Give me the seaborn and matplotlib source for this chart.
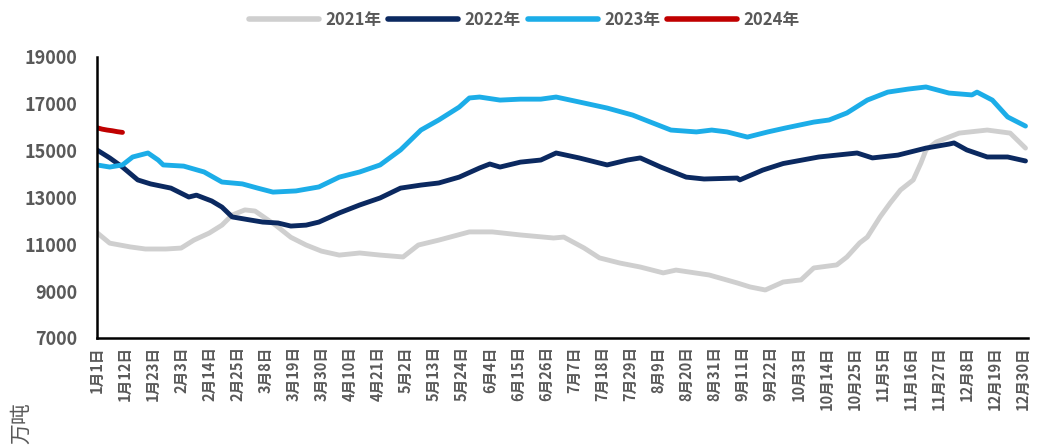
import matplotlib
matplotlib.use("Agg")
import matplotlib.pyplot as plt
from matplotlib.ticker import FixedLocator
import numpy as np
import pandas as pd
import seaborn as sns

# Day-of-year (0 = 1月1日) and stock level (万吨) for each year
days_2021 = [0, 5, 13, 19, 27, 33, 38, 44, 49, 53, 58, 62, 66, 70, 76, 82, 88, 95,
             103, 111, 120, 126, 134, 146, 155, 166, 179, 183, 191, 197, 205, 213,
             222, 227, 240, 251, 256, 262, 269, 276, 281, 290, 294, 299, 302, 307,
             311, 315, 320, 323, 325, 329, 338, 349, 358, 364]
vals_2021 = [11500, 11050, 10890, 10800, 10800, 10840, 11180, 11480, 11820, 12250,
             12470, 12420, 12120, 11820, 11300, 10970, 10710, 10540, 10630, 10540,
             10460, 10970, 11180, 11530, 11530, 11400, 11270, 11310, 10840, 10420,
             10200, 10030, 9780, 9900, 9690, 9350, 9180, 9050, 9390, 9480, 9990,
             10120, 10460, 11060, 11310, 12170, 12770, 13320, 13750, 14470, 15030,
             15370, 15750, 15880, 15750, 15110]

days_2022 = [0, 5, 10, 16, 21, 29, 36, 39, 45, 49, 53, 60, 65, 71, 76, 82, 87, 95,
             103, 111, 119, 127, 134, 142, 150, 154, 158, 166, 174, 180, 189, 200,
             208, 213, 221, 231, 238, 251, 252, 261, 269, 283, 298, 304, 314, 325,
             334, 336, 341, 349, 357, 364]
vals_2022 = [15030, 14690, 14300, 13750, 13580, 13400, 13020, 13100, 12850, 12590,
             12170, 12040, 11950, 11910, 11780, 11820, 11950, 12340, 12680, 12980,
             13400, 13530, 13620, 13870, 14260, 14430, 14300, 14510, 14600, 14900,
             14690, 14390, 14600, 14690, 14300, 13870, 13790, 13830, 13750, 14170,
             14450, 14730, 14900, 14690, 14810, 15110, 15280, 15330, 15030, 14730,
             14730, 14560]

days_2023 = [0, 5, 10, 14, 20, 24, 26, 34, 42, 49, 57, 63, 69, 78, 87, 95, 103, 111,
             119, 127, 134, 142, 146, 150, 158, 166, 174, 180, 189, 200, 210, 217,
             225, 235, 241, 247, 255, 263, 270, 281, 287, 294, 302, 310, 318, 325,
             334, 343, 345, 351, 357, 364]
vals_2023 = [14390, 14300, 14390, 14730, 14900, 14600, 14390, 14340, 14090, 13660,
             13580, 13400, 13230, 13280, 13450, 13870, 14090, 14390, 15030, 15880,
             16310, 16860, 17250, 17290, 17160, 17200, 17200, 17290, 17080, 16820,
             16520, 16220, 15880, 15800, 15880, 15800, 15580, 15800, 15970, 16220,
             16310, 16610, 17160, 17500, 17630, 17720, 17460, 17380, 17500, 17160,
             16440, 16050]

days_2024 = [0, 2, 4, 6, 8, 10]
vals_2024 = [15980, 15920, 15880, 15850, 15810, 15780]

years = ["2021年", "2022年", "2023年", "2024年"]
colors = ["#CFCFCF", "#0B2960", "#1CADE8", "#C00000"]

tick_days = list(range(0, 364, 11))
tick_labels = ["1月1日", "1月12日", "1月23日", "2月3日", "2月14日", "2月25日", "3月8日",
               "3月19日", "3月30日", "4月10日", "4月21日", "5月2日", "5月13日", "5月24日",
               "6月4日", "6月15日", "6月26日", "7月7日", "7月18日", "7月29日", "8月9日",
               "8月20日", "8月31日", "9月11日", "9月22日", "10月3日", "10月14日",
               "10月25日", "11月5日", "11月16日", "11月27日", "12月8日", "12月19日",
               "12月30日"]
y_ticks = [7000, 9000, 11000, 13000, 15000, 17000, 19000]

frames = []
for name, d, v in zip(years,
                      [days_2021, days_2022, days_2023, days_2024],
                      [vals_2021, vals_2022, vals_2023, vals_2024]):
    frames.append(pd.DataFrame({"day": d, "value": v, "year": name}))
df = pd.concat(frames, ignore_index=True)

sns.set_theme(style="white")
plt.rcParams["font.family"] = ["Noto Sans CJK SC", "DejaVu Sans"]
plt.rcParams["axes.unicode_minus"] = False

grey_txt = "#595959"

fig = plt.figure(figsize=(10.38, 4.46), dpi=100)
ax = fig.add_axes([0.0934, 0.2422, 0.897, 0.630])

sns.lineplot(data=df, x="day", y="value", hue="year", hue_order=years,
             palette=dict(zip(years, colors)), linewidth=3.5, ax=ax,
             estimator=None, sort=True)

ax.set_xlim(0, 365)
ax.set_ylim(7000, 19000)
ax.set_xlabel("")
ax.set_ylabel("")

for side in ["top", "right"]:
    ax.spines[side].set_visible(False)
for side in ["left", "bottom"]:
    ax.spines[side].set_color("black")
    ax.spines[side].set_linewidth(1.8)

ax.set_yticks(y_ticks)
ax.set_yticklabels([str(t) for t in y_ticks], fontsize=13, fontweight="bold",
                   color=grey_txt)
ax.tick_params(axis="y", direction="in", length=6, width=1.8, color="black", pad=14)

ax.set_xticks(tick_days)
ax.set_xticklabels(tick_labels, rotation=90, fontsize=10.5, fontweight="bold",
                   color=grey_txt, va="top", ha="center")
ax.tick_params(axis="x", which="major", length=0, pad=6)
ax.xaxis.set_minor_locator(FixedLocator(list(range(20, 361, 20))))
ax.tick_params(axis="x", which="minor", direction="in", length=6, width=1.8,
               color="black")

handles, labels = ax.get_legend_handles_labels()
leg = ax.legend(handles, labels, loc="center", bbox_to_anchor=(0.505, 0.955),
                bbox_transform=fig.transFigure, ncol=4, frameon=False,
                handlelength=4.2, handletextpad=0.4, columnspacing=0.4,
                prop={"size": 12, "weight": "bold"})
for t in leg.get_texts():
    t.set_color(grey_txt)
for h in leg.get_lines():
    h.set_linewidth(4)

fig.text(0.010, 0.005, "万吨", rotation=90, fontsize=15, color=grey_txt,
         va="bottom", ha="left")

fig.savefig("out.png", dpi=100)
